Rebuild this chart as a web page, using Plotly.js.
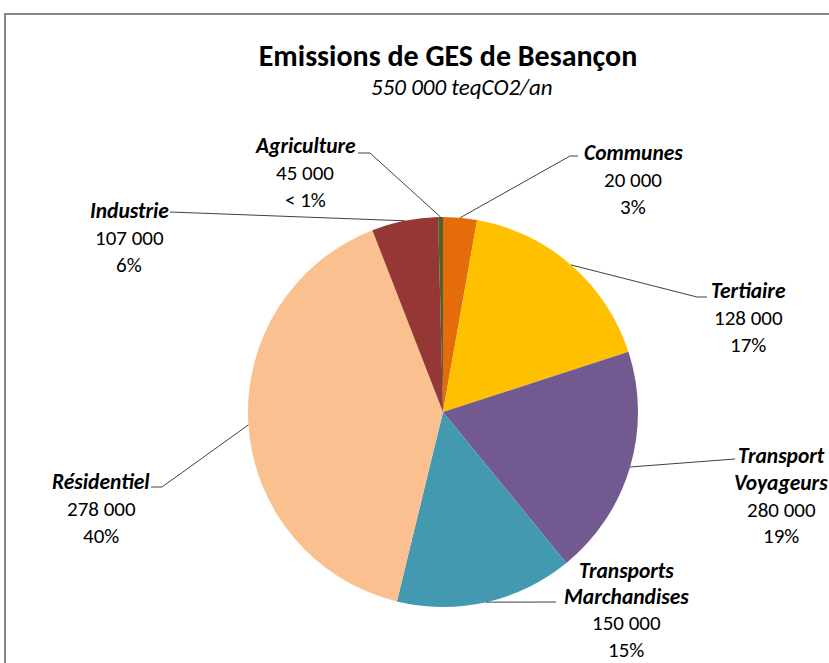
<!DOCTYPE html>
<html>
<head>
<meta charset="utf-8">
<script src="https://cdn.plot.ly/plotly-3.0.1.min.js"></script>
<style>html,body{margin:0;padding:0;background:#fff;}#chart{width:829px;height:663px;}</style>
</head>
<body>
<div id="chart"></div>
<script>
// ---- data ----
const categories = ['Communes', 'Tertiaire', 'Transport Voyageurs', 'Transports Marchandises', 'Résidentiel', 'Industrie', 'Agriculture'];
const labelLines = [['Communes'], ['Tertiaire'], ['Transport', 'Voyageurs'], ['Transports', 'Marchandises'], ['Résidentiel'], ['Industrie'], ['Agriculture']];
const shares = [2.8, 17.2, 19.1, 14.7, 40.3, 5.5, 0.4];
const tonnes = ['20 000', '128 000', '280 000', '150 000', '278 000', '107 000', '45 000'];
const pctLabels = ['3%', '17%', '19%', '15%', '40%', '6%', '< 1%'];
const colors = ['#E46C0A', '#FFC000', '#725990', '#4299B0', '#FAC090', '#953735', '#4F6228'];

// ---- layout helpers ----
const W = 829, H = 663;
const CX = 443, CY = 412, R = 195;
const px = x => x / W;
const py = y => 1 - y / H;
const FONT = "Carlito, Calibri, Lato, 'Open Sans', sans-serif";

// label placement: [centerX, firstLineY, lineHeight], leader path points after slice anchor
const labelPos = [
  [633, 153, 26.8], [748, 291, 26.8], [781, 456, 26.8], [626, 571, 26.2], [101, 482, 26.8], [129, 211, 26.8], [305, 146, 26.8]
];
const leaderTail = [
  [[570, 156], [578, 156]],
  [[697, 297], [707, 297]],
  [[735, 459]],
  [[556, 602]],
  [[162, 487], [151, 487]],
  [[170, 212]],
  [[370, 153], [358, 153]]
];

const total = shares.reduce((a, b) => a + b, 0);
let cum = 0;
const shapes = [];
const annotations = [];
shares.forEach((v, i) => {
  const mid = (cum + v / 2) / total;
  cum += v;
  const th = 2 * Math.PI * mid;
  const ax = CX + R * Math.sin(th), ay = CY - R * Math.cos(th);
  const pts = [[ax, ay]].concat(leaderTail[i]);
  let path = 'M ' + px(pts[0][0]) + ' ' + py(pts[0][1]);
  for (let k = 1; k < pts.length; k++) path += ' L ' + px(pts[k][0]) + ' ' + py(pts[k][1]);
  shapes.push({type: 'path', xref: 'paper', yref: 'paper', path: path, line: {color: '#404040', width: 1}});
  const nNames = labelLines[i].length;
  const lines = labelLines[i].map(t => '<b><i>' + t + '</i></b>').concat([tonnes[i], pctLabels[i]]);
  lines.forEach((t, k) => {
    annotations.push({
      xref: 'paper', yref: 'paper', x: px(labelPos[i][0]), y: py(labelPos[i][1] + k * labelPos[i][2]),
      xanchor: 'center', yanchor: 'middle', showarrow: false, text: t,
      font: {family: FONT, size: k < nNames ? 21.5 : 21, color: '#000'}
    });
  });
});

annotations.push({
  xref: 'paper', yref: 'paper', x: px(462), y: py(87), xanchor: 'center', yanchor: 'middle',
  showarrow: false, text: '<i>550 000 teqCO2/an</i>', font: {family: FONT, size: 23, color: '#000'}
});

shapes.push({type: 'rect', xref: 'paper', yref: 'paper', x0: px(5), x1: 1.05, y0: -0.05, y1: py(14),
  line: {color: '#868686', width: 2}, layer: 'above'});

const trace = {
  type: 'pie',
  labels: categories,
  values: shares,
  sort: false,
  direction: 'clockwise',
  rotation: 0,
  marker: {colors: colors, line: {width: 0}},
  textinfo: 'none',
  hoverinfo: 'label+percent',
  showlegend: false,
  domain: {x: [px(CX - R), px(CX + R)], y: [py(CY + R), py(CY - R)]}
};

const layout = {
  width: W, height: H,
  margin: {l: 0, r: 0, t: 0, b: 0},
  paper_bgcolor: '#fff',
  title: {text: '<b>Emissions de GES de Besançon</b>', x: px(448), xanchor: 'center', y: py(55), yanchor: 'middle',
    font: {family: FONT, size: 30, color: '#000'}},
  shapes: shapes,
  annotations: annotations,
  showlegend: false
};

Plotly.newPlot('chart', [trace], layout, {displayModeBar: false, staticPlot: true});
</script>
</body>
</html>
